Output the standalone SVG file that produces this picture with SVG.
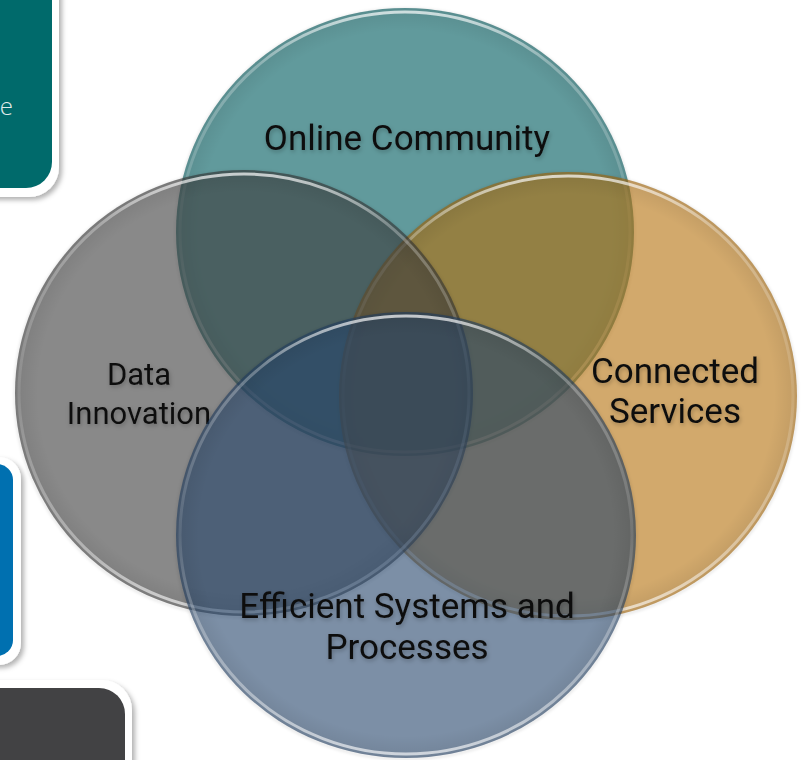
<svg xmlns="http://www.w3.org/2000/svg" width="808" height="760" viewBox="0 0 808 760">
  <defs>
    <filter id="boxShadow" x="-20%" y="-20%" width="140%" height="140%">
      <feDropShadow dx="3" dy="3" stdDeviation="2.5" flood-color="#000" flood-opacity="0.3"/>
    </filter>
    <filter id="txtShadow" x="-10%" y="-30%" width="120%" height="160%">
      <feDropShadow dx="1" dy="2" stdDeviation="2" flood-color="#000" flood-opacity="0.25"/>
    </filter>
    <filter id="soft" x="-10%" y="-10%" width="120%" height="120%">
      <feGaussianBlur stdDeviation="1.5"/>
    </filter>
    <linearGradient id="rim" x1="0" y1="0" x2="0" y2="1">
      <stop offset="0" stop-color="#fff" stop-opacity="0.7"/>
      <stop offset="0.12" stop-color="#fff" stop-opacity="0.3"/>
      <stop offset="0.5" stop-color="#fff" stop-opacity="0.1"/>
      <stop offset="0.85" stop-color="#fff" stop-opacity="0.4"/>
      <stop offset="1" stop-color="#fff" stop-opacity="0.65"/>
    </linearGradient>
    <radialGradient id="shade" cx="0.5" cy="0.5" r="0.5">
      <stop offset="0.9" stop-color="#000" stop-opacity="0"/>
      <stop offset="1" stop-color="#000" stop-opacity="0.08"/>
    </radialGradient>
  </defs>
  <style>
    .lbl { font-family: Roboto, "Liberation Sans", sans-serif; font-size: 35px; fill: #111; text-anchor: middle; filter: url(#txtShadow); }
    .sm { font-size: 31px; }
    .outer { fill: #ffffff; filter: url(#boxShadow); }
    .rimline { fill: none; stroke: url(#rim); stroke-width: 3; }
    .edge { fill: none; stroke: #000; stroke-opacity: 0.12; stroke-width: 2; filter: url(#soft); }
    .shade { fill: url(#shade); }
  </style>

  <rect width="808" height="760" fill="#ffffff"/>

  <g id="box-teal">
    <rect class="outer" x="-40" y="-40" width="99" height="237" rx="30"/>
    <rect x="-40" y="-40" width="92" height="228" rx="26" fill="#006a6b"/>
    <text x="13" y="115" text-anchor="end" font-family="'Open Sans', 'Liberation Sans', sans-serif" font-weight="300" font-size="24" fill="#e2eded">e</text>
  </g>

  <g id="box-blue">
    <rect class="outer" x="-40" y="457" width="61" height="208" rx="22"/>
    <rect x="-40" y="464" width="53" height="192" rx="16" fill="#0070b0"/>
  </g>

  <g id="box-dark">
    <rect class="outer" x="-40" y="680" width="172" height="120" rx="30"/>
    <rect x="-40" y="688" width="165" height="112" rx="26" fill="#424244"/>
  </g>

  <g id="node-online">
    <ellipse class="edge" cx="405" cy="233" rx="229" ry="224"/>
    <ellipse cx="405" cy="232" rx="229" ry="224" fill="#619a9c"/>
    <ellipse class="shade" cx="405" cy="232" rx="229" ry="224"/>
    <ellipse class="rimline" cx="405" cy="232" rx="225" ry="220"/>
    <text class="lbl" x="407" y="150">Online Community</text>
  </g>

  <g id="node-connected">
    <ellipse class="edge" cx="568" cy="397" rx="229" ry="224"/>
    <ellipse cx="568" cy="396" rx="229" ry="224" fill="#b4700a" fill-opacity="0.6"/>
    <ellipse class="shade" cx="568" cy="396" rx="229" ry="224"/>
    <ellipse class="rimline" cx="568" cy="396" rx="225" ry="220"/>
    <text class="lbl" x="675" y="383">Connected</text>
    <text class="lbl" x="675" y="423">Services</text>
  </g>

  <g id="node-data">
    <ellipse class="edge" cx="244" cy="394" rx="229" ry="223"/>
    <ellipse cx="244" cy="393" rx="229" ry="223" fill="#3a3a3a" fill-opacity="0.6"/>
    <ellipse class="shade" cx="244" cy="393" rx="229" ry="223"/>
    <ellipse class="rimline" cx="244" cy="393" rx="225" ry="219"/>
    <text class="lbl sm" x="139" y="385">Data</text>
    <text class="lbl sm" x="139" y="424">Innovation</text>
  </g>

  <g id="node-efficient">
    <ellipse class="edge" cx="406" cy="536" rx="230" ry="223"/>
    <ellipse cx="406" cy="535" rx="230" ry="223" fill="#25456a" fill-opacity="0.6"/>
    <ellipse class="shade" cx="406" cy="535" rx="230" ry="223"/>
    <ellipse class="rimline" cx="406" cy="535" rx="226" ry="219"/>
    <text class="lbl" x="407" y="618">Efficient Systems and</text>
    <text class="lbl" x="407" y="659">Processes</text>
  </g>

  <g id="connectors"></g>
</svg>
